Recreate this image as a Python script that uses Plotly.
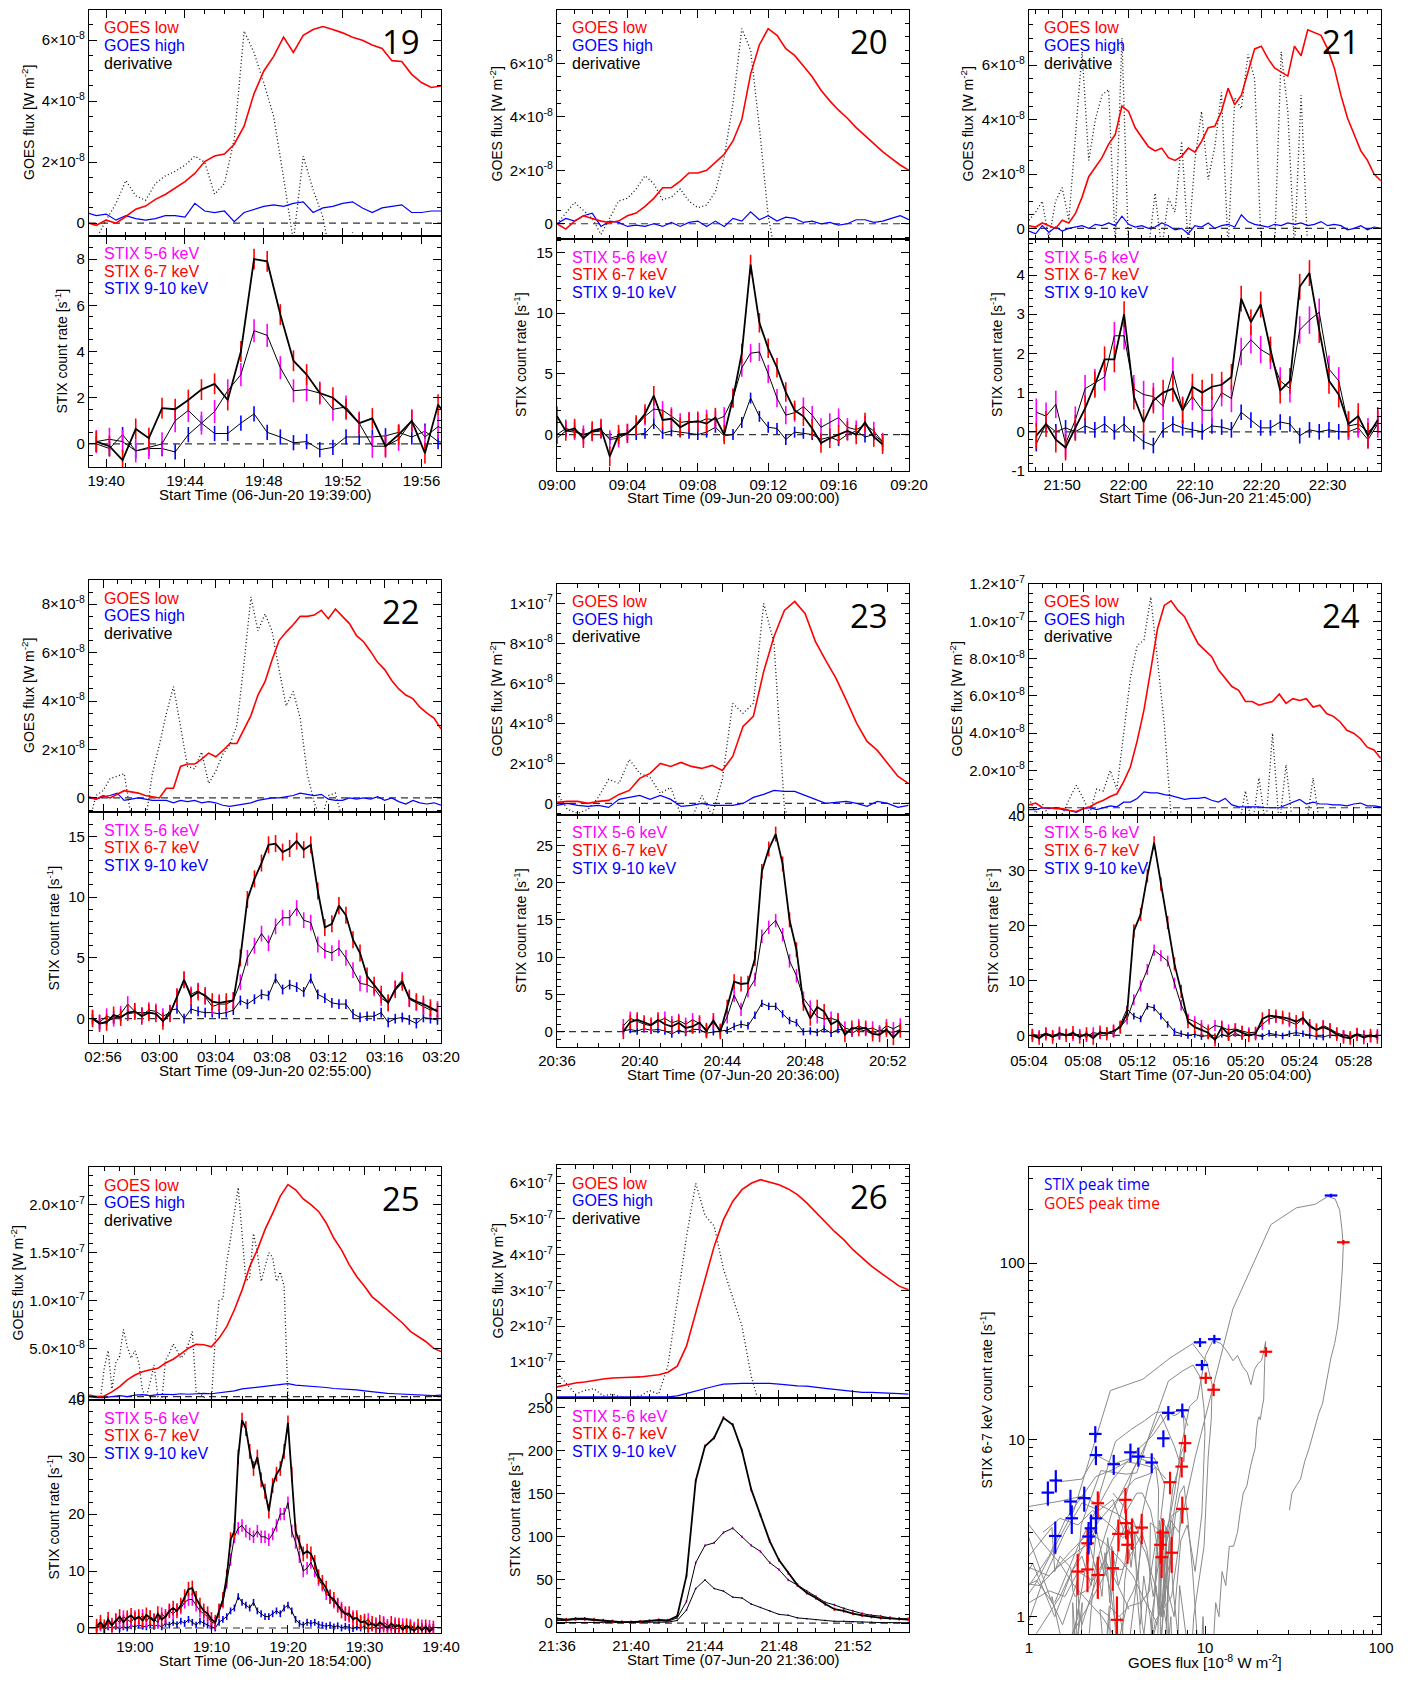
import numpy as np
import plotly.graph_objects as go

W, H = 1416, 1706          # target page size
OFF = 8                     # browser body margin
FW, FH = W - 2 * OFF, H - 2 * OFF
FONT = "Liberation Sans, Arial, Helvetica, sans-serif"
FONT2 = "Open Sans, Noto Sans, sans-serif"
RED, BLUE, MAG = "#ff0000", "#0000ff", "#ff00ff"

# ======================= DATA =======================
# GOES values in units of 1e-8 W m^-2 ; STIX in counts/s ; times in minutes after start

# ---- Flare 19 ----
p19_start = "19:39"
p19_date = "06-Jun-20 19:39:00"
p19_ticks = ["19:40", "19:44", "19:48", "19:52", "19:56"]
p19_goes_t = (0.0, 0.5)
p19_goes_low = [0.03, -0.07, 0.1, 0.0, 0.22, 0.46, 0.56, 0.78, 0.94, 1.15, 1.36, 1.63, 2.02, 2.2, 2.27, 2.59,
                3.18, 4.24, 4.99, 5.47, 6.1, 5.6, 6.16, 6.35, 6.45, 6.35, 6.24, 6.1, 6.0, 5.84, 5.73, 5.33, 5.3,
                4.88, 4.61, 4.45, 4.5, 4.29]
p19_goes_high = [0.35, 0.25, 0.3, 0.1, 0.25, 0.15, 0.1, 0.15, 0.25, 0.25, 0.2, 0.65, 0.4, 0.35, 0.4, 0.05, 0.35,
                 0.45, 0.55, 0.6, 0.55, 0.65, 0.7, 0.35, 0.5, 0.55, 0.65, 0.7, 0.5, 0.35, 0.5, 0.55, 0.6, 0.35,
                 0.35, 0.4, 0.4]
p19_deriv = [-1.5, -0.5, 0.1, 0.65, 1.4, 0.9, 0.75, 1.3, 1.55, 1.7, 1.9, 2.2, 2.0, 0.95, 1.3, 2.75, 6.3, 5.6,
             4.6, 3.5, 1.5, -0.6, 2.2, 1.1, 0.2, -1.5, -1.5, -0.3, -1.5]
p19_stix_t = (0.5, 0.667)
p19_stix_67 = [0.1, -0.1, -0.7, 0.65, 0.25, 1.55, 1.5, 1.9, 2.35, 2.6, 1.9, 4.0, 8.0, 7.9, 5.6, 3.6, 3.0, 2.2,
               2.0, 1.5, 0.9, 1.1, -0.1, 0.4, 1.0, -0.4, 1.7, 0.9]
p19_stix_56 = [0.1, 0.2, 0.1, -0.3, -0.15, 0.0, 1.0, 1.45, 0.9, 1.4, 2.3, 3.0, 4.9, 4.7, 3.3, 2.3, 2.35, 2.2,
               1.5, 1.6, 0.9, -0.1, -0.1, 0.2, 1.0, 0.3, 0.75, 0.5]
p19_stix_910 = [0.0, -0.2, 0.4, -0.3, -0.2, -0.2, -0.35, 0.4, 0.9, 0.45, 0.45, 0.9, 1.3, 0.5, 0.3, 0.05, 0.1,
                -0.25, -0.15, 0.3, 0.3, 0.3, 0.35, 0.5, 0.3, 0.55, 0.1, 0.0]

# ---- Flare 20 ----
p20_start = "09:00"
p20_date = "09-Jun-20 09:00:00"
p20_ticks = ["09:00", "09:04", "09:08", "09:12", "09:16", "09:20"]
p20_goes_t = (0.0, 0.5)
p20_goes_low = [0.0, -0.2, 0.1, 0.3, 0.2, 0.1, 0.05, 0.1, 0.3, 0.4, 0.65, 0.95, 1.35, 1.35, 1.6, 1.9, 1.9, 2.0,
                2.3, 2.6, 3.1, 3.9, 5.6, 6.7, 7.3, 7.05, 6.55, 6.3, 5.9, 5.5, 5.0, 4.6, 4.25, 3.95, 3.6, 3.3,
                3.0, 2.7, 2.45, 2.2, 2.0]
p20_goes_high = [0.0, 0.2, 0.1, 0.3, 0.4, -0.1, 0.1, 0.05, -0.1, -0.05, -0.1, 0.0, -0.1, 0.05, -0.1, 0.05, 0.1,
                 -0.1, 0.1, -0.1, 0.2, 0.1, 0.45, 0.15, 0.3, 0.1, 0.25, 0.2, 0.05, 0.1, 0.0, 0.05, -0.05, 0.0,
                 0.15, 0.15, 0.05, 0.1, 0.2, 0.3, 0.15]
p20_deriv = [0.0, 0.4, 0.8, 0.5, 0.2, -0.4, 0.2, 0.85, 0.95, 1.3, 1.8, 1.5, 0.9, 1.0, 1.3, 0.85, 0.6, 0.7, 1.2,
             2.5, 4.5, 7.3, 6.5, 3.6, 0.3, -1.5]
p20_stix_t = (0.0, 0.5)
p20_stix_67 = [1.5, 0.3, 0.5, -0.3, 0.3, 0.5, -1.8, 0.0, 0.1, 0.8, 1.7, 3.2, 1.2, 1.3, 0.6, 1.0, 1.1, 0.9, 1.4,
               0.0, 3.0, 6.7, 14.0, 9.2, 7.1, 5.5, 3.5, 2.0, 1.5, 0.5, -0.7, -0.3, 0.0, 0.3, 0.0, 1.0, -0.2, -0.8]
p20_stix_56 = [0.0, 0.5, 0.3, 0.0, 0.2, 0.4, -0.4, -0.3, 0.1, 0.7, 1.5, 2.1, 2.0, 1.5, 1.0, 1.1, 1.0, 1.3, 1.2,
               1.5, 3.0, 5.5, 6.7, 6.8, 5.0, 3.0, 1.6, 1.8, 2.3, 1.6, 0.6, 1.0, 1.4, 0.6, 0.4, 0.8, 0.3, -0.6]
p20_stix_910 = [-0.3, 0.3, 0.2, 0.0, 0.2, 0.3, -0.3, -0.1, 0.0, 0.0, 0.1, 0.9, 0.1, 0.3, 0.2, 0.1, 0.0, 0.2, 0.6,
                -0.1, 0.0, 1.0, 3.0, 1.5, 0.6, 0.5, -0.4, 0.2, 0.1, 0.0, -0.4, -0.2, -0.5, 0.0, 0.3, -0.2, 0.0, -0.6]

# ---- Flare 21 ----
p21_start = "21:45"
p21_date = "06-Jun-20 21:45:00"
p21_ticks = ["21:50", "22:00", "22:10", "22:20", "22:30"]
p21_goes_t = (0.0, 1.0)
p21_goes_low = [0.1, 0.05, 0.2, 0.1, 0.0, 0.3, 0.2, 0.55, 1.15, 1.9, 2.25, 2.6, 3.1, 3.45, 4.5, 4.3, 3.7, 3.35,
                3.0, 2.85, 2.95, 2.6, 2.5, 2.65, 2.95, 2.8, 3.2, 3.7, 3.75, 4.3, 5.15, 4.55, 4.9, 5.75, 6.6, 6.7,
                6.25, 5.9, 5.75, 5.6, 6.7, 6.35, 7.3, 7.2, 7.1, 6.6, 5.9, 4.9, 4.05, 3.45, 2.85, 2.5, 2.0, 1.75]
p21_goes_high = [-0.1, -0.2, 0.1, -0.15, 0.05, -0.1, 0.0, 0.05, 0.1, 0.0, 0.15, 0.1, 0.2, 0.1, 0.45, 0.15, 0.05,
                 0.1, 0.0, 0.05, 0.2, 0.1, -0.05, 0.0, -0.2, 0.1, 0.05, 0.2, 0.0, 0.1, 0.15, 0.05, 0.5, 0.25,
                 0.15, 0.1, 0.05, 0.15, 0.1, 0.2, 0.15, 0.2, 0.1, 0.15, 0.25, 0.1, 0.15, 0.1, -0.05, 0.0, 0.1,
                 -0.05, 0.05, 0.0]
p21_deriv = [0.3, 0.6, 1.0, -0.4, 1.0, 1.5, 0.3, 3.5, 6.5, 2.5, 4.0, 4.9, 5.1, -0.6, 7.0, -0.8, -0.8, -0.8, -0.8,
             1.3, -0.8, 1.1, 0.6, 3.2, -0.6, 2.5, 4.3, 1.8, 3.0, 5.0, -0.8, 4.8, 4.4, 6.4, 5.5, -0.8, -0.8, -0.8,
             6.5, 4.3, -0.8, 4.9, -0.8]
p21_stix_t = (1.1, 1.47)
p21_stix_67 = [-0.1, 0.2, -0.2, -0.4, 0.1, 0.6, 1.2, 1.85, 1.85, 3.0, 0.9, 0.25, 0.8, 1.0, 1.1, 0.55, 1.15, 1.0,
               1.15, 1.2, 1.4, 3.4, 2.8, 3.25, 2.1, 1.05, 1.3, 3.7, 4.05, 2.6, 1.3, 0.95, 0.2, 0.4, -0.1, 0.3]
p21_stix_56 = [0.5, 0.4, 0.7, -0.3, 0.3, 1.1, 1.25, 1.4, 2.45, 2.45, 1.1, 0.95, 0.9, 0.65, 1.55, 0.55, 0.9, 0.55,
               0.55, 1.0, 0.85, 2.05, 2.35, 2.1, 1.95, 1.3, 1.1, 2.6, 2.85, 3.05, 1.6, 1.3, 0.15, 0.2, 0.0, 0.2]
p21_stix_910 = [-0.3, 0.2, 0.0, 0.1, 0.0, 0.15, 0.05, 0.2, 0.0, 0.2, -0.05, -0.25, -0.35, 0.05, 0.2, 0.1, 0.05,
                0.0, 0.15, 0.12, 0.05, 0.5, 0.3, 0.1, 0.1, 0.25, 0.2, -0.1, 0.05, 0.0, 0.05, 0.0, 0.0, 0.1, -0.2, 0.2]

# ---- Flare 22 ----
p22_start = "02:55"
p22_date = "09-Jun-20 02:55:00"
p22_ticks = ["02:56", "03:00", "03:04", "03:08", "03:12", "03:16", "03:20"]
p22_goes_t = (0.0, 0.5)
p22_goes_low = [0.05, -0.05, 0.1, 0.0, 0.15, 0.3, 0.25, 0.2, 0.1, 0.05, 0.0, 0.4, 0.4, 1.3, 1.4, 1.4, 1.6, 1.85,
                1.7, 1.95, 2.25, 2.25, 2.8, 3.4, 4.25, 4.8, 5.7, 6.5, 6.85, 7.15, 7.5, 7.5, 7.55, 7.75, 7.4, 7.8,
                7.5, 7.2, 6.7, 6.45, 6.05, 5.6, 5.3, 4.85, 4.5, 4.25, 4.1, 3.75, 3.5, 3.3, 2.85]
p22_goes_high = [0.0, -0.05, 0.05, 0.1, 0.2, -0.1, -0.05, 0.0, -0.05, -0.1, -0.1, -0.1, -0.2, -0.1, -0.15, -0.1,
                 -0.2, -0.15, -0.2, -0.3, -0.35, -0.3, -0.25, -0.2, -0.1, -0.05, 0.0, 0.0, 0.05, 0.1, 0.2, 0.15,
                 0.1, 0.15, -0.05, -0.1, -0.1, 0.0, -0.05, 0.0, -0.05, 0.05, -0.1, 0.0, -0.15, -0.25, -0.1, -0.2,
                 -0.25, -0.2, -0.3]
p22_deriv = [-1.0, 0.1, 0.3, 0.8, 0.9, 1.0, -0.8, -1.5, -1.0, 1.0, 2.2, 3.5, 4.6, 3.0, 1.3, 1.2, 1.9, 0.6, 1.1,
             1.8, 2.2, 3.0, 5.5, 8.3, 6.9, 7.6, 6.9, 5.3, 3.8, 4.4, 3.3, 1.0, -0.2, -0.9, 0.1, 0.2, -0.9]
p22_stix_t = (0.25, 0.5)
p22_stix_67 = [0.0, -0.4, -0.3, 0.3, 0.1, 0.5, 0.6, 0.2, 0.5, 0.4, -0.2, 0.4, 1.8, 3.2, 1.8, 2.2, 1.9, 1.4, 1.3,
               1.4, 1.5, 5.0, 9.8, 11.5, 12.8, 14.3, 14.4, 13.7, 14.0, 14.6, 13.9, 14.3, 10.5, 7.5, 7.8, 9.3,
               8.5, 6.5, 5.4, 3.5, 2.75, 2.0, 1.3, 2.4, 3.0, 1.7, 1.4, 1.2, 0.9, 0.6]
p22_stix_56 = [0.1, -0.3, 0.2, 0.0, 0.4, 1.2, 0.6, 0.3, 0.7, 0.6, 0.2, 0.5, 1.8, 3.2, 2.0, 2.3, 1.8, 1.0, 1.2,
               1.2, 1.5, 3.0, 5.0, 6.0, 7.0, 6.2, 7.6, 8.3, 8.3, 9.1, 8.1, 7.9, 6.1, 5.6, 5.4, 5.8, 5.0, 4.0,
               2.9, 2.8, 2.5, 1.7, 1.3, 2.5, 3.2, 1.6, 1.3, 1.0, 0.7, 0.8]
p22_stix_910 = [0.0, -0.4, -0.2, 0.0, 0.2, 0.4, 0.5, 0.5, 0.5, 0.4, -0.2, 0.7, 0.8, 0.0, 0.8, 0.6, 0.5, 0.5, 0.4,
                0.5, 0.7, 1.5, 1.2, 1.6, 2.0, 1.9, 3.3, 2.4, 2.8, 2.6, 2.2, 3.3, 2.0, 1.7, 1.3, 1.2, 1.2, 0.4,
                0.1, 0.2, 0.2, 0.5, -0.3, 0.0, 0.1, -0.1, -0.4, 0.1, 0.0, -0.1]

# ---- Flare 23 ----
p23_start = "20:36"
p23_date = "07-Jun-20 20:36:00"
p23_ticks = ["20:36", "20:40", "20:44", "20:48", "20:52"]
p23_goes_t = (0.0, 0.5)
p23_goes_low = [0.05, 0.1, 0.1, 0.0, 0.1, 0.15, 0.45, 0.65, 1.25, 1.5, 2.0, 1.85, 2.05, 1.85, 1.75, 1.9, 1.65,
                2.35, 3.85, 4.35, 6.6, 8.35, 9.65, 10.1, 9.5, 8.1, 7.15, 6.25, 5.15, 4.0, 3.1, 2.65, 2.0, 1.35, 1.0]
p23_goes_high = [-0.1, 0.0, -0.1, -0.15, -0.1, -0.2, 0.2, 0.3, 0.4, 0.2, 0.4, 0.2, -0.15, -0.1, 0.0, -0.1, -0.1,
                 -0.1, 0.0, 0.3, 0.45, 0.65, 0.6, 0.6, 0.4, 0.2, 0.0, 0.05, 0.1, 0.0, -0.15, 0.1, 0.0, -0.2, -0.1]
p23_deriv = [0.5, -0.3, -0.5, -0.3, 0.3, 1.2, 1.0, 2.2, 1.5, 1.3, 0.5, 0.8, -0.6, -0.8, 0.4, -0.6, 1.2, 5.0, 4.5,
             5.0, 10.0, 8.0, -0.2, -1.5]
p23_stix_t = (3.21, 0.335)
p23_stix_67 = [0.0, 1.3, 1.6, 1.2, 0.9, 1.6, 1.0, 0.7, 1.2, 0.5, 0.7, 1.2, 0.1, 1.5, 0.0, 3.3, 6.7, 6.4, 6.5,
               9.8, 21.5, 24.5, 26.5, 22.5, 15.0, 11.0, 3.8, 1.8, 3.3, 2.7, 1.0, 1.5, -0.4, 0.5, 0.4, 0.5, -0.3,
               -0.4, 0.3, -0.8, 0.2]
p23_stix_56 = [0.8, 1.8, 1.4, 1.0, 0.8, 1.4, 1.8, 1.2, 1.5, 1.0, 1.6, 1.1, 0.3, 1.2, 0.2, 2.0, 4.9, 3.0, 5.5, 7.0,
               12.8, 14.0, 14.9, 13.0, 9.5, 7.5, 4.5, 3.3, 2.0, 1.7, 1.8, 1.5, 0.5, 0.2, 0.8, 0.3, 0.5, 0.0, 0.8,
               0.4, 0.9]
p23_stix_910 = [0.1, 0.3, 0.1, 0.4, 0.2, 0.3, 0.1, -0.3, 0.2, -0.1, 0.3, 0.3, -0.2, 0.0, 0.1, 0.2, 0.7, 1.0, 0.8,
                2.2, 3.8, 3.4, 3.4, 2.4, 1.5, 1.2, 0.0, 0.1, -0.1, 0.4, -0.2, 0.3, 0.2, -0.2, 0.3, 0.1, -0.3, 0.2,
                0.1, -0.1, 0.3]

# ---- Flare 24 ----
p24_start = "05:04"
p24_date = "07-Jun-20 05:04:00"
p24_ticks = ["05:04", "05:08", "05:12", "05:16", "05:20", "05:24", "05:28"]
p24_goes_t = (0.0, 0.5)
p24_goes_low = [0.15, 0.25, 0.0, 0.0, -0.05, -0.05, -0.15, -0.2, -0.05, 0.05, 0.25, 0.4, 0.6, 0.75, 1.4, 2.2,
                3.6, 5.25, 7.4, 9.6, 10.85, 11.1, 10.6, 10.25, 9.5, 8.8, 8.45, 8.1, 7.4, 6.95, 6.5, 6.3, 5.7, 5.7,
                5.5, 5.6, 5.7, 6.1, 5.6, 5.85, 5.75, 5.85, 5.4, 5.5, 5.05, 4.9, 4.6, 4.15, 4.0, 3.7, 3.25, 3.1, 2.65]
p24_goes_high = [-0.1, -0.1, 0.0, -0.05, 0.0, -0.1, -0.15, -0.25, -0.05, 0.0, -0.1, 0.0, 0.1, 0.05, 0.3, 0.3,
                 0.5, 0.85, 0.8, 0.8, 0.7, 0.65, 0.55, 0.45, 0.5, 0.5, 0.55, 0.4, 0.3, 0.5, 0.15, 0.05, 0.05, 0.05,
                 0.05, 0.0, 0.0, 0.0, 0.15, 0.3, 0.45, 0.2, 0.3, 0.2, 0.2, 0.15, 0.15, 0.1, 0.2, 0.25, 0.1, 0.1, 0.05]
p24_deriv = [0.5, -0.3, 0.2, -0.5, -0.5, -0.3, 0.5, 1.2, 0.5, -0.3, 1.0, 0.9, 2.0, 1.0, 4.0, 7.0, 8.7, 9.0, 11.3,
             8.0, 4.5, -0.4, -1.0, -1.0, -1.0, -1.0, -1.0, -1.0, -1.0, -1.0, -1.0, -1.0, 0.9, -1.0, 1.6, -1.0,
             4.0, -1.0, 2.3, -1.0, -1.0, -1.0, 1.6, -1.0]
p24_stix_t = (0.25, 0.5)
p24_stix_67 = [0.0, -0.5, 0.3, -0.3, 0.4, 0.0, 0.5, -0.3, 0.3, -0.5, 0.6, 0.3, 0.8, 1.5, 4.0, 19.0, 22.0, 29.0,
               35.0, 27.5, 20.5, 13.0, 8.0, 2.5, 1.5, 1.0, 0.5, -0.8, 1.5, 0.2, 1.0, 0.5, 0.0, 0.3, 3.0, 3.6, 3.5,
               3.3, 3.0, 2.5, 3.2, 1.8, 1.0, 1.5, 1.0, 0.2, -0.3, -0.5, 0.2, -0.4, 0.0, -0.3]
p24_stix_56 = [0.2, 0.0, 0.4, 0.0, 0.3, 0.2, 0.0, 0.2, -0.2, 0.5, 0.3, 0.5, 0.8, 1.5, 3.0, 6.5, 9.0, 12.0, 15.5,
               14.5, 13.5, 9.5, 5.5, 3.0, 2.5, 1.8, 1.0, 1.8, 1.5, 1.0, 1.2, 0.8, 0.5, 0.6, 2.0, 3.0, 3.3, 3.0,
               2.5, 2.0, 3.0, 1.5, 1.0, 1.8, 1.2, 0.5, 0.0, -0.2, 0.3, 0.0, -0.3, 0.2]
p24_stix_910 = [0.0, -0.3, 0.2, -0.2, 0.0, 0.1, 0.2, -0.2, 0.1, 0.0, 0.3, 0.5, 0.3, 2.0, 4.8, 3.5, 3.0, 5.3, 5.0,
                3.5, 2.0, 0.7, 0.3, 0.0, 0.2, -0.2, 0.0, -0.8, 0.2, -0.3, 0.4, -0.2, 0.3, 0.0, -0.2, 0.4, 0.2,
                -0.1, 0.3, 0.5, 0.3, 0.0, -0.2, -0.3, 0.1, -0.1, 0.2, -0.2, 0.0, -0.3, 0.1, -0.2]

# ---- Flare 25 ----
p25_start = "18:54"
p25_date = "06-Jun-20 18:54:00"
p25_ticks = ["19:00", "19:10", "19:20", "19:30", "19:40"]
p25_goes_t = (0.0, 1.0)
p25_goes_low = [0.17, 0.0, 0.07, 0.5, 1.05, 1.75, 2.25, 2.6, 2.8, 2.95, 3.5, 3.9, 4.45, 5.05, 5.45, 5.4, 5.2,
                6.1, 7.3, 9.05, 11.1, 13.55, 15.3, 17.4, 19.1, 20.9, 22.1, 21.55, 20.6, 20.0, 19.3, 18.1, 16.5,
                15.3, 13.75, 12.5, 11.5, 10.4, 9.75, 9.05, 8.35, 7.65, 6.8, 6.25, 5.75, 5.05, 4.7]
p25_goes_high = [0.0, -0.1, -0.1, 0.0, 0.1, 0.0, 0.15, 0.2, 0.1, 0.2, 0.25, 0.2, 0.3, 0.25, 0.3, 0.35, 0.3, 0.4,
                 0.5, 0.6, 0.8, 0.9, 1.0, 1.1, 1.15, 1.25, 1.35, 1.2, 1.15, 1.05, 1.0, 0.95, 0.85, 0.8, 0.8, 0.7,
                 0.6, 0.5, 0.45, 0.35, 0.3, 0.25, 0.2, 0.15, 0.1, 0.1, 0.15]
p25_deriv_t = (0.0, 0.5)
p25_deriv = [-1.0, -1.0, -1.0, -0.2, 3.0, 4.8, 0.8, 3.5, 4.2, 7.0, 5.2, 4.0, 4.8, 3.6, 0.6, 0.0, 1.5, 3.3, 0.0,
             -0.5, 3.8, 4.5, 5.5, 4.8, 4.0, 4.5, 5.5, 6.8, 0.5, 0.3, 0.0, -0.5, -0.3, 6.0, 10.0, 10.2, 14.0, 16.5,
             19.0, 21.8, 17.0, 12.0, 12.5, 17.0, 15.0, 12.0, 13.5, 15.0, 14.5, 12.0, 13.0, 11.5, 0.0, -1.0]
p25_stix_t = (1.0, 0.5)
p25_stix_67 = [0.3, 1.0, 0.2, 1.5, 0.5, 1.2, 2.0, 1.0, 1.8, 2.2, 1.5, 2.0, 1.3, 2.3, 1.8, 1.2, 2.5, 1.5, 2.0, 3.0,
               3.5, 3.0, 4.0, 5.5, 6.8, 7.0, 5.2, 4.0, 3.0, 2.5, 1.5, 1.0, 3.0, 5.0, 9.0, 15.5, 17.0, 30.0, 36.5,
               35.0, 31.0, 28.0, 30.0, 26.0, 24.0, 20.5, 25.0, 27.0, 28.0, 31.0, 36.0, 27.0, 17.0, 15.0, 13.0,
               13.5, 13.0, 11.5, 9.0, 8.0, 7.0, 5.5, 5.0, 4.0, 3.0, 2.5, 2.5, 1.5, 1.8, 1.0, 1.2, 0.5, 0.8, 0.3,
               1.0, 0.5, 0.0, 0.8, 0.2, 0.5, -0.3, 0.4, 0.0, -0.5, 0.3, -0.4, 0.2, -0.6, 0.0]
p25_stix_56 = [0.0, 0.5, 0.0, 1.0, 0.3, 1.5, 1.0, 2.0, 1.5, 1.0, 2.0, 1.5, 2.2, 1.2, 2.0, 1.5, 1.0, 2.5, 1.8, 3.0,
               2.5, 3.2, 3.5, 4.5, 5.0, 5.0, 4.0, 3.0, 2.5, 2.0, 1.0, 0.8, 3.0, 4.5, 8.0, 12.0, 16.0, 17.5, 18.0,
               17.0, 16.5, 16.0, 17.0, 16.0, 16.0, 15.5, 16.5, 18.0, 20.0, 20.0, 22.0, 17.0, 15.0, 12.5, 10.0,
               10.5, 11.5, 10.0, 8.5, 7.5, 6.0, 5.5, 4.5, 4.0, 3.5, 2.5, 2.0, 2.0, 1.5, 1.0, 1.0, 1.5, 0.5, 0.8,
               0.2, 1.0, 0.5, 0.0, 0.8, 0.2, 0.6, -0.2, 0.5, 0.0, -0.3, 0.4, -0.2, 0.3, -0.4]
p25_stix_910 = [0.0, 0.3, -0.2, 0.2, 0.0, 0.3, -0.1, 0.2, 0.0, 0.4, 0.2, 0.5, 0.3, 0.2, 0.6, 0.3, 0.5, 0.2, 0.8,
                0.5, 1.0, 0.6, 1.2, 0.8, 1.5, 1.0, 0.5, 1.2, 0.8, 0.5, 0.2, 0.0, 1.0, 1.5, 2.0, 3.0, 3.5, 5.5,
                4.5, 4.0, 3.5, 4.5, 3.0, 2.5, 2.0, 2.0, 2.5, 3.0, 2.5, 3.5, 4.0, 3.0, 1.5, 0.8, 0.5, 1.0, 0.8, 1.0,
                0.6, 0.5, 0.3, 0.5, 0.2, 0.4, 0.0, 0.3, 0.1, -0.1, 0.2, 0.0, 0.3, -0.2, 0.1, 0.0, -0.1, 0.2, 0.0,
                0.1, -0.2, 0.0, 0.1, -0.1, 0.2, 0.0, -0.2, 0.1, 0.0, -0.1, 0.1]

# ---- Flare 26 ----
p26_start = "21:36"
p26_date = "07-Jun-20 21:36:00"
p26_ticks = ["21:36", "21:40", "21:44", "21:48", "21:52"]
p26_goes_t = (0.0, 0.5)
p26_goes_low = [3.0, 3.6, 4.1, 4.4, 4.9, 5.2, 5.5, 5.7, 5.7, 5.8, 6.0, 6.4, 7.1, 8.8, 14.4, 23.7, 33.0, 42.4,
                49.8, 54.9, 58.2, 60.0, 61.0, 60.4, 59.6, 58.4, 56.8, 54.5, 51.9, 49.3, 46.5, 44.2, 41.4, 39.1,
                36.8, 34.9, 33.0, 31.2, 30.2]
p26_goes_high = [0.2, 0.2, 0.1, 0.0, 0.0, 0.1, 0.2, 0.1, 0.0, 0.0, 0.0, 0.0, 0.2, 0.5, 1.2, 2.0, 2.6, 3.2, 3.8,
                 4.0, 4.0, 4.0, 4.1, 4.0, 3.8, 3.5, 3.3, 3.2, 3.0, 2.6, 2.3, 2.0, 1.8, 1.5, 1.5, 1.3, 1.3, 1.1, 1.0]
p26_deriv = [7.0, 4.0, 1.0, 2.0, 2.5, 0.5, 1.0, 0.0, 0.0, 0.5, 2.0, 1.0, 9.0, 27.0, 45.0, 60.0, 51.0, 48.0, 36.0,
             28.0, 20.0, 6.0, -3.0, -10.0]
p26_stix_t = (0.0, 0.5)
p26_stix_67 = [5, 4, 5, 5, 4, 3, 2, 1, 1, 1.5, 2.5, 3.5, 3, 8, 55, 165, 205, 215, 238, 230, 200, 155, 125, 95, 73,
               58, 44, 35, 29, 22, 16, 14, 11, 9, 7.5, 6, 5.5, 5, 4]
p26_stix_56 = [3, 3, 4, 4, 3, 2, 1.5, 1, 1, 1.5, 2.5, 3, 2, 6, 25, 70, 90, 93, 105, 110, 100, 90, 83, 70, 62, 50,
               44, 37, 31, 24, 21, 17, 14, 11, 9, 8, 6, 5, 5]
p26_stix_910 = [0.5, 0.5, 0.5, 0.5, 0.5, 0.3, 0.2, 0.2, 0.2, 0.3, 0.5, 0.5, 1, 3, 15, 40, 50, 40, 37, 30, 29, 22,
                18, 14, 10, 9, 6, 5, 4, 3, 2, 2, 1.5, 1, 1, 0.5, 0.5, 0.5, 0.3]

# ---- Scatter: peak-time points (GOES flux 1e-8 W m^-2, STIX 6-7 keV counts/s) ----
stix_peak_goes = [52.0, 9.37, 11.3, 9.6, 6.19, 7.43, 5.8, 2.38, 2.4, 3.77, 4.18, 3.03, 4.98, 1.42, 1.28, 1.72,
                  2.06, 1.75, 2.4, 2.25, 2.18, 1.41]
stix_peak_rate = [241, 35.6, 37.1, 26.5, 14.2, 14.7, 10.2, 10.8, 8.2, 8.5, 8.05, 7.28, 7.44, 5.89, 5.03, 4.48,
                  4.68, 3.6, 3.6, 3.16, 2.84, 2.86]
goes_peak_goes = [61.1, 22.2, 10.1, 11.2, 7.7, 7.37, 6.33, 7.43, 3.53, 2.46, 3.56, 4.37, 3.85, 3.22, 3.63, 5.75,
                  5.58, 5.67, 6.47, 2.15, 1.89, 2.15, 2.46, 2.99, 3.16]
goes_peak_rate = [131, 31.5, 22.4, 19.2, 9.58, 7.06, 5.76, 4.07, 4.58, 4.38, 3.38, 3.19, 2.99, 2.94, 2.55, 2.99,
                  2.55, 2.17, 2.3, 2.6, 1.8, 1.85, 1.72, 1.88, 0.96]

# other flares' trajectories (GOES flux, STIX 6-7 keV rate)
other1_goes = [1.0, 1.2, 1.5, 1.8, 2.2, 2.6, 3.0]
other1_rate = [3.3, 2.6, 2.0, 1.5, 1.2, 1.0, 0.8]
other2_goes = [1.0, 1.3, 1.6, 2.0, 2.4, 3.0, 3.6, 4.3, 5.0]
other2_rate = [1.5, 2.2, 3.5, 4.8, 6.2, 6.8, 7.5, 7.3, 7.0]
other3_goes = [1.0, 1.5, 2.0, 2.6, 3.2, 3.8, 4.5]
other3_rate = [4.2, 4.5, 4.8, 4.2, 3.8, 3.3, 3.1]
other4_goes = [1.1, 1.5, 2.0, 2.5, 3.0, 3.5, 4.0, 5.0]
other4_rate = [0.8, 1.3, 2.4, 3.5, 4.3, 5.2, 6.0, 6.5]
other5_goes = [1.8, 2.0, 2.2, 2.4, 2.6, 2.9, 3.1, 3.2]
other5_rate = [0.8, 1.5, 2.5, 3.2, 2.2, 1.4, 0.9, 0.8]
other6_goes = [2.8, 3.0, 3.3, 3.6, 3.9, 4.2, 4.4, 4.5]
other6_rate = [0.8, 1.6, 2.8, 3.5, 2.5, 1.6, 0.9, 0.8]
other7_goes = [4.5, 4.8, 5.2, 5.6, 5.8, 6.0, 6.1]
other7_rate = [0.8, 1.5, 2.5, 3.0, 2.0, 1.2, 0.8]
other8_goes = [1.0, 1.3, 1.7, 2.2, 2.7, 3.3, 3.9, 4.6, 5.4]
other8_rate = [1.9, 1.7, 2.3, 3.0, 2.6, 2.1, 1.7, 1.2, 0.9]
other9_goes = [1.5, 2.0, 2.4, 3.0, 4.0, 5.0, 6.0]
other9_rate = [5.8, 6.0, 8.2, 7.3, 8.0, 7.4, 6.0]
other10_goes = [1.4, 1.9, 2.4, 3.0, 4.0, 5.0, 6.2, 7.4, 8.0]
other10_rate = [1.2, 2.5, 4.0, 6.0, 8.5, 10.5, 14.2, 14.7, 12.0]
other11_goes = [1.0, 1.2, 1.6, 2.0, 2.5, 3.0, 3.4, 3.8]
other11_rate = [0.95, 1.6, 3.0, 4.4, 4.0, 4.6, 3.2, 2.4]
other12_goes = [5.0, 5.3, 5.5, 5.7, 5.9, 6.3, 6.6, 7.0]
other12_rate = [0.8, 1.8, 3.5, 2.6, 1.5, 2.8, 1.4, 0.8]
other13_goes = [2.2, 2.3, 2.5, 2.7, 2.8, 3.0, 3.1]
other13_rate = [0.8, 1.4, 2.2, 1.7, 2.8, 1.5, 0.8]
other14_goes = [3.4, 3.5, 3.7, 3.8, 4.0, 4.1, 4.3]
other14_rate = [0.8, 1.6, 2.4, 1.9, 3.0, 1.4, 0.8]
other15_goes = [5.4, 5.5, 5.6, 5.8, 5.9, 6.0, 6.2]
other15_rate = [0.8, 2.0, 1.3, 2.9, 1.7, 3.2, 0.8]
other16_goes = [1.0, 1.3, 1.6, 1.9, 2.3, 2.7, 3.2, 3.7]
other16_rate = [1.2, 1.4, 1.3, 1.8, 1.6, 2.1, 1.5, 1.1]
other17_goes = [6.0, 6.3, 6.8, 7.2, 7.6, 8.0, 8.5, 9.0]
other17_rate = [0.8, 2.0, 3.8, 5.0, 5.5, 3.5, 1.8, 0.8]
other18_goes = [1.2, 1.5, 1.9, 2.3, 2.8, 3.4, 4.0, 4.6, 5.2]
other18_rate = [3.0, 3.6, 3.3, 4.0, 3.4, 2.8, 3.0, 2.3, 1.5]

# ======================= LAYOUT CONFIG =======================
def sup(m, e):
    return f"{m}×10<sup>{e}</sup>"

PANELS = [
    dict(lab="19", start=p19_start, date=p19_date, ticks=p19_ticks, xmin=0.13, xmax=17.99, xminor=1,
         L=89, R=441, T=4, D=236, B=467, gtx=28, stx=62,
         grange=[-0.42, 6.99], gtv=[0, 2, 4, 6], gtt=["0", sup(2, -8), sup(4, -8), sup(6, -8)], gminor=0.5,
         srange=[-1, 9], stv=[0, 2, 4, 6, 8], sminor=0.5,
         gt=p19_goes_t, gl=p19_goes_low, gh=p19_goes_high, dt_=p19_goes_t, dv=p19_deriv,
         st=p19_stix_t, s67=p19_stix_67, s56=p19_stix_56, s910=p19_stix_910, err=(0.45, 0.5, 0.33)),
    dict(lab="20", start=p20_start, date=p20_date, ticks=p20_ticks, xmin=0, xmax=20, xminor=1,
         L=557, R=909, T=8, D=239, B=471, gtx=497, stx=520,
         grange=[-0.57, 8.0], gtv=[0, 2, 4, 6, 8], gtt=["0", sup(2, -8), sup(4, -8), sup(6, -8), sup(8, -8)],
         gminor=0.5, srange=[-3, 16.1], stv=[0, 5, 10, 15], sminor=1,
         gt=p20_goes_t, gl=p20_goes_low, gh=p20_goes_high, dt_=p20_goes_t, dv=p20_deriv,
         st=p20_stix_t, s67=p20_stix_67, s56=p20_stix_56, s910=p20_stix_910, err=(0.8, 0.75, 0.45)),
    dict(lab="21", start=p21_start, date=p21_date, ticks=p21_ticks, xmin=0, xmax=53.04, xminor=2,
         L=1029, R=1381, T=7, D=239, B=471, gtx=968, stx=996,
         grange=[-0.39, 8.03], gtv=[0, 2, 4, 6, 8], gtt=["0", sup(2, -8), sup(4, -8), sup(6, -8), sup(8, -8)],
         gminor=0.5, srange=[-1.0, 4.92], stv=[-1, 0, 1, 2, 3, 4], sminor=0.2,
         gt=p21_goes_t, gl=p21_goes_low, gh=p21_goes_high, dt_=p21_goes_t, dv=p21_deriv,
         st=p21_stix_t, s67=p21_stix_67, s56=p21_stix_56, s910=p21_stix_910, err=(0.33, 0.35, 0.2)),
    dict(lab="22", start=p22_start, date=p22_date, ticks=p22_ticks, xmin=0, xmax=25, xminor=1,
         L=89, R=441, T=580, D=812, B=1043, gtx=28, stx=53,
         grange=[-0.58, 9.0], gtv=[0, 2, 4, 6, 8], gtt=["0", sup(2, -8), sup(4, -8), sup(6, -8), sup(8, -8)],
         gminor=0.5, srange=[-2, 17], stv=[0, 5, 10, 15], sminor=1,
         gt=p22_goes_t, gl=p22_goes_low, gh=p22_goes_high, dt_=p22_goes_t, dv=p22_deriv,
         st=p22_stix_t, s67=p22_stix_67, s56=p22_stix_56, s910=p22_stix_910, err=(0.7, 0.65, 0.4)),
    dict(lab="23", start=p23_start, date=p23_date, ticks=p23_ticks, xmin=0, xmax=17.03, xminor=1,
         L=557, R=909, T=584, D=815, B=1047, gtx=497, stx=520,
         grange=[-0.58, 10.97], gtv=[0, 2, 4, 6, 8, 10],
         gtt=["0", sup(2, -8), sup(4, -8), sup(6, -8), sup(8, -8), sup(1, -7)],
         gminor=0.5, srange=[-2.05, 29.06], stv=[0, 5, 10, 15, 20, 25], sminor=1,
         gt=p23_goes_t, gl=p23_goes_low, gh=p23_goes_high, dt_=p23_goes_t, dv=p23_deriv,
         st=p23_stix_t, s67=p23_stix_67, s56=p23_stix_56, s910=p23_stix_910, err=(1.0, 0.9, 0.5)),
    dict(lab="24", start=p24_start, date=p24_date, ticks=p24_ticks, xmin=0, xmax=26.02, xminor=1,
         L=1029, R=1381, T=584, D=815, B=1047, gtx=957, stx=992,
         grange=[-0.39, 12.0], gtv=[0, 2, 4, 6, 8, 10, 12],
         gtt=["0", sup("2.0", -8), sup("4.0", -8), sup("6.0", -8), sup("8.0", -8), sup("1.0", -7), sup("1.2", -7)],
         gminor=0.5, srange=[-2.1, 40.05], stv=[0, 10, 20, 30, 40], sminor=2,
         gt=p24_goes_t, gl=p24_goes_low, gh=p24_goes_high, dt_=p24_goes_t, dv=p24_deriv,
         st=p24_stix_t, s67=p24_stix_67, s56=p24_stix_56, s910=p24_stix_910, err=(1.2, 1.0, 0.6)),
    dict(lab="25", start=p25_start, date=p25_date, ticks=p25_ticks, xmin=0, xmax=46, xminor=2,
         L=89, R=441, T=1167, D=1400, B=1633, gtx=17, stx=53,
         grange=[-0.35, 23.93], gtv=[0, 5, 10, 15, 20],
         gtt=["0", sup("5.0", -8), sup("1.0", -7), sup("1.5", -7), sup("2.0", -7)],
         gminor=1, srange=[-0.88, 40.02], stv=[0, 10, 20, 30, 40], sminor=2,
         gt=p25_goes_t, gl=p25_goes_low, gh=p25_goes_high, dt_=p25_deriv_t, dv=p25_deriv,
         st=p25_stix_t, s67=p25_stix_67, s56=p25_stix_56, s910=p25_stix_910, err=(1.3, 1.1, 0.6)),
    dict(lab="26", start=p26_start, date=p26_date, ticks=p26_ticks, xmin=0, xmax=19.03, xminor=1,
         L=557, R=909, T=1165, D=1398, B=1632, gtx=497, stx=514,
         grange=[-0.1, 65.1], gtv=[0, 10, 20, 30, 40, 50, 60],
         gtt=["0"] + [sup(k, -7) for k in range(1, 7)],
         gminor=2, srange=[-10.4, 261], stv=[0, 50, 100, 150, 200, 250], sminor=10,
         gt=p26_goes_t, gl=p26_goes_low, gh=p26_goes_high, dt_=p26_goes_t, dv=p26_deriv,
         st=p26_stix_t, s67=p26_stix_67, s56=p26_stix_56, s910=p26_stix_910, err=(2.0, 1.5, 0.8)),
]

# ======================= BUILD =======================
def grid(t, n):
    return [t[0] + t[1] * i for i in range(n)]

def tmin(s):
    h, m = s.split(":")
    return int(h) * 60 + int(m)

def xa(n): return "xaxis" if n == 1 else f"xaxis{n}"
def ya(n): return "yaxis" if n == 1 else f"yaxis{n}"
def xr(n): return "x" if n == 1 else f"x{n}"
def yr(n): return "y" if n == 1 else f"y{n}"
def px(v): return (v - OFF) / FW
def py(v): return 1 - (v - OFF) / FH
def clamp(v): return max(0.0, min(1.0, v))

TICKFONT = dict(family=FONT, size=15, color="black")
common = dict(showline=True, linecolor="black", linewidth=1.2, mirror="allticks", ticks="inside",
              ticklen=8, tickwidth=1, tickcolor="black", showgrid=False, zeroline=False, tickfont=TICKFONT,
              automargin=False)

def minor_lin(d, t0=0):
    return dict(tickmode="linear", tick0=t0, dtick=d, ticks="inside", ticklen=4, tickwidth=1,
                tickcolor="black", showgrid=False)

fig = go.Figure()
layout = {}
annotations = []
shapes = []

def ann(x, y, text, color="black", size=16, family=FONT, xanchor="left", angle=0):
    annotations.append(dict(x=px(x), y=py(y), xref="paper", yref="paper", text=text, showarrow=False,
                            xanchor=xanchor, yanchor="middle", textangle=angle,
                            font=dict(family=family, size=size, color=color)))

DOT = "1px,2.5px"
n = 1
for P in PANELS:
    nt, nb = n, n + 1
    n += 2
    s0 = tmin(P["start"])
    tv = [tmin(t) - s0 for t in P["ticks"]]
    top = max(P["T"], OFF + 2)
    xdom = [clamp(px(P["L"])), clamp(px(P["R"]))]
    xminor = minor_lin(P["xminor"], tv[0])
    layout[xa(nt)] = dict(domain=xdom, range=[P["xmin"], P["xmax"]], anchor=yr(nt), tickmode="array",
                          tickvals=tv, ticktext=P["ticks"], showticklabels=False, minor=xminor, **common)
    layout[ya(nt)] = dict(domain=[clamp(py(P["D"])), clamp(py(top))], range=P["grange"], anchor=xr(nt),
                          tickmode="array", tickvals=P["gtv"], ticktext=P["gtt"], minor=minor_lin(P["gminor"]),
                          **common)
    layout[xa(nb)] = dict(domain=xdom, range=[P["xmin"], P["xmax"]], anchor=yr(nb), tickmode="array",
                          tickvals=tv, ticktext=P["ticks"], showticklabels=True, minor=xminor, **common)
    layout[ya(nb)] = dict(domain=[clamp(py(P["B"])), clamp(py(P["D"]))], range=P["srange"], anchor=xr(nb),
                          tickmode="array", tickvals=P["stv"], ticktext=[str(v) for v in P["stv"]],
                          minor=minor_lin(P["sminor"]), **common)
    for k in (nt, nb):
        shapes.append(dict(type="line", xref=f"{xr(k)} domain", yref=yr(k), x0=0, x1=1, y0=0, y1=0,
                           line=dict(color="#333333", width=1.2, dash="7px,5px"), layer="below"))
    fig.add_trace(go.Scatter(x=grid(P["dt_"], len(P["dv"])), y=P["dv"], mode="lines", xaxis=xr(nt), yaxis=yr(nt),
                             line=dict(color="#111111", width=1.3, dash=DOT), showlegend=False))
    fig.add_trace(go.Scatter(x=grid(P["gt"], len(P["gh"])), y=P["gh"], mode="lines", xaxis=xr(nt), yaxis=yr(nt),
                             line=dict(color=BLUE, width=1.2), showlegend=False))
    fig.add_trace(go.Scatter(x=grid(P["gt"], len(P["gl"])), y=P["gl"], mode="lines", xaxis=xr(nt), yaxis=yr(nt),
                             line=dict(color=RED, width=1.6), showlegend=False))
    e67, e56, e910 = P["err"]
    for vals, col, err, lw in ((P["s910"], BLUE, e910, 1.0), (P["s56"], MAG, e56, 1.0), (P["s67"], RED, e67, 1.8)):
        fig.add_trace(go.Scatter(x=grid(P["st"], len(vals)), y=vals, mode="lines", xaxis=xr(nb), yaxis=yr(nb),
                                 line=dict(color="black", width=lw), showlegend=False,
                                 error_y=dict(type="constant", value=err, color=col, thickness=1.6, width=0)))
    for i, (t, c) in enumerate((("GOES low", RED), ("GOES high", BLUE), ("derivative", "black"))):
        ann(P["L"] + 13, top + 18 + 17.5 * i, t, c)
    for i, (t, c) in enumerate((("STIX 5-6 keV", MAG), ("STIX 6-7 keV", RED), ("STIX 9-10 keV", BLUE))):
        ann(P["L"] + 13, P["D"] + 18 + 17.5 * i, t, c)
    ann(P["R"] - 19, top + 31, P["lab"], "black", size=33, family=FONT2, xanchor="right")
    ann(P["gtx"], (top + P["D"]) / 2, "GOES flux [W m<sup>-2</sup>]", size=14, xanchor="center", angle=-90)
    ann(P["stx"], (P["D"] + P["B"]) / 2, "STIX count rate [s<sup>-1</sup>]", size=14, xanchor="center", angle=-90)
    ann((P["L"] + P["R"]) / 2, P["B"] + 27, f"Start Time ({P['date']})", size=15, xanchor="center")

# ---------------- scatter panel ----------------
ns = n
SL, SR, ST, SB = 1029, 1381, 1167, 1634
dec_minor = [2, 3, 4, 5, 6, 7, 8, 9, 20, 30, 40, 50, 60, 70, 80, 90, 200, 300]
layout[xa(ns)] = dict(domain=[px(SL), px(SR)], type="log", range=[0, 2], anchor=yr(ns), tickmode="array",
                      tickvals=[1, 10, 100], ticktext=["1", "10", "100"],
                      minor=dict(tickmode="array", tickvals=dec_minor, ticks="inside", ticklen=4, tickwidth=1,
                                 tickcolor="black", showgrid=False), **common)
layout[ya(ns)] = dict(domain=[py(SB), py(ST)], type="log", range=[-0.098, 2.543], anchor=xr(ns), tickmode="array",
                      tickvals=[1, 10, 100], ticktext=["1", "10", "100"],
                      minor=dict(tickmode="array", tickvals=[0.9] + dec_minor, ticks="inside", ticklen=4,
                                 tickwidth=1, tickcolor="black", showgrid=False), **common)

GRAY = "#8a8a8a"
for P in PANELS:
    ts = grid(P["st"], len(P["s67"]))
    tg = grid(P["gt"], len(P["gl"]))
    gx = np.interp(ts, tg, P["gl"])
    sx, sy = [], []
    for a, b in zip(gx, P["s67"]):
        if a > 0 and b > 0:
            sx.append(a)
            sy.append(b)
    fig.add_trace(go.Scatter(x=sx, y=sy, mode="lines", xaxis=xr(ns), yaxis=yr(ns),
                             line=dict(color=GRAY, width=1), showlegend=False))
others = [(other1_goes, other1_rate), (other2_goes, other2_rate), (other3_goes, other3_rate),
          (other4_goes, other4_rate), (other5_goes, other5_rate), (other6_goes, other6_rate),
          (other7_goes, other7_rate), (other8_goes, other8_rate), (other9_goes, other9_rate),
          (other10_goes, other10_rate), (other11_goes, other11_rate), (other12_goes, other12_rate),
          (other13_goes, other13_rate), (other14_goes, other14_rate), (other15_goes, other15_rate),
          (other16_goes, other16_rate), (other17_goes, other17_rate), (other18_goes, other18_rate)]
for gxv, gyv in others:
    fig.add_trace(go.Scatter(x=gxv, y=gyv, mode="lines", xaxis=xr(ns), yaxis=yr(ns),
                             line=dict(color=GRAY, width=1), showlegend=False))

for gx, gy, col in ((goes_peak_goes, goes_peak_rate, RED), (stix_peak_goes, stix_peak_rate, BLUE)):
    fig.add_trace(go.Scatter(x=gx, y=gy, mode="markers", xaxis=xr(ns), yaxis=yr(ns), showlegend=False,
                             marker=dict(symbol="line-ew", size=9, color=col, line=dict(width=2.2, color=col)),
                             error_y=dict(type="data", array=[0.35 * np.sqrt(v) for v in gy], color=col,
                                          thickness=2.2, width=0)))

ann(SL + 13, ST + 17, "STIX peak time", BLUE, size=15.5, family=FONT2)
ann(SL + 13, ST + 36, "GOES peak time", RED, size=15.5, family=FONT2)
ann(986, (ST + SB) / 2, "STIX 6-7 keV count rate [s<sup>-1</sup>]", size=14, xanchor="center", angle=-90)
ann((SL + SR) / 2, SB + 27, "GOES flux [10<sup>-8</sup> W m<sup>-2</sup>]", size=15, xanchor="center")

fig.update_layout(width=FW, height=FH, margin=dict(l=0, r=0, t=0, b=0, pad=0), paper_bgcolor="white",
                  plot_bgcolor="white", showlegend=False, annotations=annotations, shapes=shapes, **layout)
fig.write_html("out.html")
